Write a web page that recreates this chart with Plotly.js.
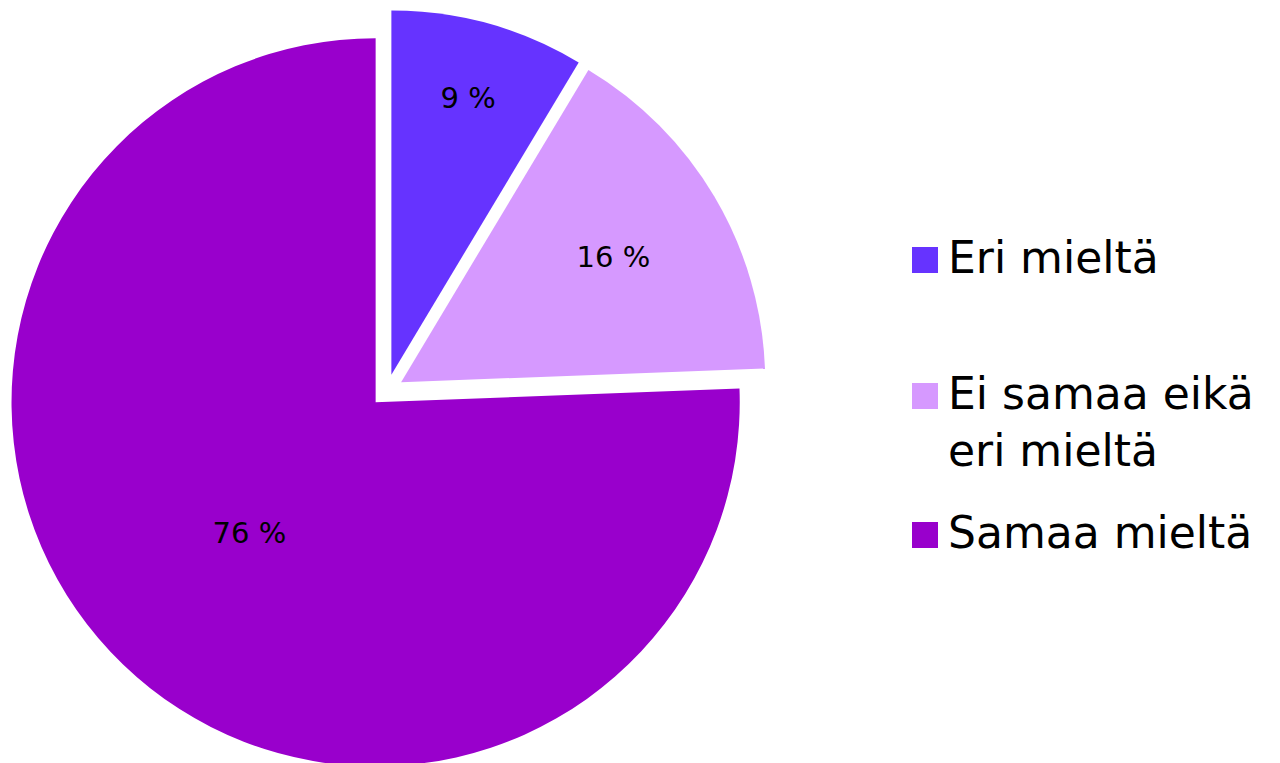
<!DOCTYPE html>
<html>
<head>
<meta charset="utf-8">
<script src="https://cdn.plot.ly/plotly-3.0.1.min.js"></script>
<style>
html, body { margin: 0; padding: 0; overflow: hidden; background: #fff; }
#chart { width: 1280px; height: 771px; }
</style>
</head>
<body>
<div id="chart"></div>
<script>
const categories = ['Eri mieltä', 'Ei samaa eikä eri mieltä', 'Samaa mieltä'];
const legendLabels = ['Eri mieltä', 'Ei samaa eikä<br>eri mieltä', 'Samaa mieltä'];
const values = [8.6, 15.8, 75.6];
const colors = ['#6633FF', '#D699FF', '#9900CC'];

const FONT = 'DejaVu Sans, Noto Sans, sans-serif';
const W = 1280, H = 771, MT = 10;
const plotH = H - MT;
const total = values.reduce((a, b) => a + b, 0);
const pctText = values.map(v => Math.round(v / total * 100) + ' %');

const trace = {
  type: 'pie',
  labels: categories,
  values: values,
  sort: false,
  direction: 'clockwise',
  rotation: 0,
  pull: values.map(() => 0.045),
  marker: { colors: colors, line: { width: 0 } },
  text: pctText,
  textinfo: 'text',
  textposition: 'inside',
  insidetextorientation: 'horizontal',
  textfont: { family: FONT, size: 29, color: '#000000' },
  hoverinfo: 'label+percent',
  domain: { x: [0, 774 / W], y: [0, 1] },
  showlegend: false
};

// Legend drawn with shapes + annotations (swatch pixel rows)
const legendRows = [260, 396, 535];
const px = x => x / W;
const py = y => 1 - (y - MT) / plotH;
const shapes = [], annotations = [];
legendRows.forEach((cy, i) => {
  shapes.push({
    type: 'rect', xref: 'paper', yref: 'paper',
    x0: px(912), x1: px(938), y0: py(cy - 13), y1: py(cy + 13),
    fillcolor: colors[i], line: { width: 0 }
  });
  annotations.push({
    xref: 'paper', yref: 'paper', x: px(946), y: py(cy - 30),
    xanchor: 'left', yanchor: 'top', align: 'left',
    text: legendLabels[i], showarrow: false,
    font: { family: FONT, size: 44, color: '#000000' }
  });
});

const layout = {
  width: W, height: H,
  margin: { l: 0, r: 0, t: MT, b: 0, pad: 0 },
  paper_bgcolor: '#ffffff',
  showlegend: false,
  shapes: shapes,
  annotations: annotations,
  font: { family: FONT }
};

Plotly.newPlot('chart', [trace], layout, { displayModeBar: false });
</script>
</body>
</html>
